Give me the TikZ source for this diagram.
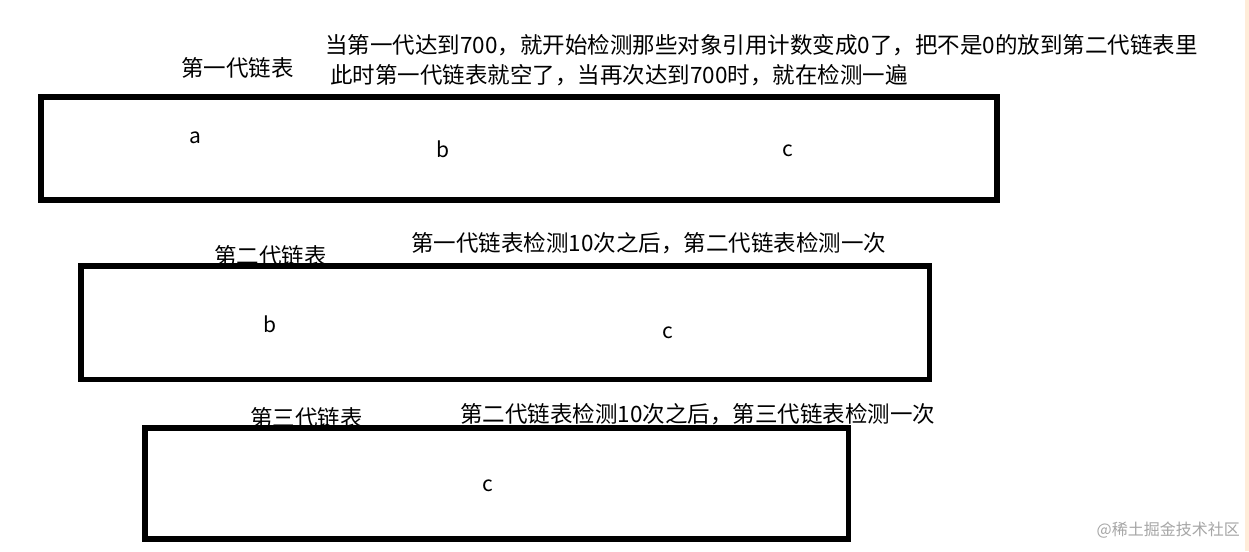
\documentclass[tikz,border=0pt]{standalone}
\usepackage{fontspec}
\setmainfont{Noto Sans CJK SC}
\newfontfamily\cjk{Noto Sans CJK SC}
\begin{document}
\begin{tikzpicture}[x=1pt,y=-1pt,
  listbox/.style={draw=black,line width=5.5pt,inner sep=0pt,outer sep=0pt,fill=none},
  cjklabel/.style={inner sep=0pt,anchor=west,font=\cjk\fontsize{22.5}{26}\selectfont},
  item/.style={inner sep=0pt,font=\cjk\fontsize{21}{24}\selectfont}]
\useasboundingbox (0,0) rectangle (1249,551);
\fill[white] (0,0) rectangle (1249,551);
\fill[orange!15] (1245,0) rectangle (1249,551);
% boxes
\node[listbox,minimum width=956pt,minimum height=103pt] (g1) at (519,148.5) {};
\node[listbox,minimum width=848.5pt,minimum height=113.5pt] (g2) at (505.25,322.75) {};
\node[listbox,minimum width=703.5pt,minimum height=111pt] (g3) at (496.75,483.5) {};
% titles
\node[cjklabel] (t1) at (181,68) {第一代链表};
\node[cjklabel] (t2) at (214,256) {第二代链表};
\node[cjklabel] (t3) at (250,418) {第三代链表};
% notes
\node[cjklabel] (n1) at (325,45) {当第一代达到700，就开始检测那些对象引用计数变成0了，把不是0的放到第二代链表里};
\node[cjklabel] (n2) at (330,75) {此时第一代链表就空了，当再次达到700时，就在检测一遍};
\node[cjklabel] (n3) at (411,243) {第一代链表检测10次之后，第二代链表检测一次};
\node[cjklabel] (n4) at (460,414) {第二代链表检测10次之后，第三代链表检测一次};
% items
\node[item] (a1) at (195,138) {a};
\node[item] (b1) at (443,149) {b};
\node[item] (c1) at (788,151) {c};
\node[item] (b2) at (270,324) {b};
\node[item] (c2) at (668,333) {c};
\node[item] (c3) at (488,486) {c};
% watermark
\node[inner sep=0pt,anchor=east,text=black!35,font=\cjk\fontsize{16}{18}\selectfont] (wm) at (1240,530) {@稀土掘金技术社区};
\end{tikzpicture}
\end{document}
